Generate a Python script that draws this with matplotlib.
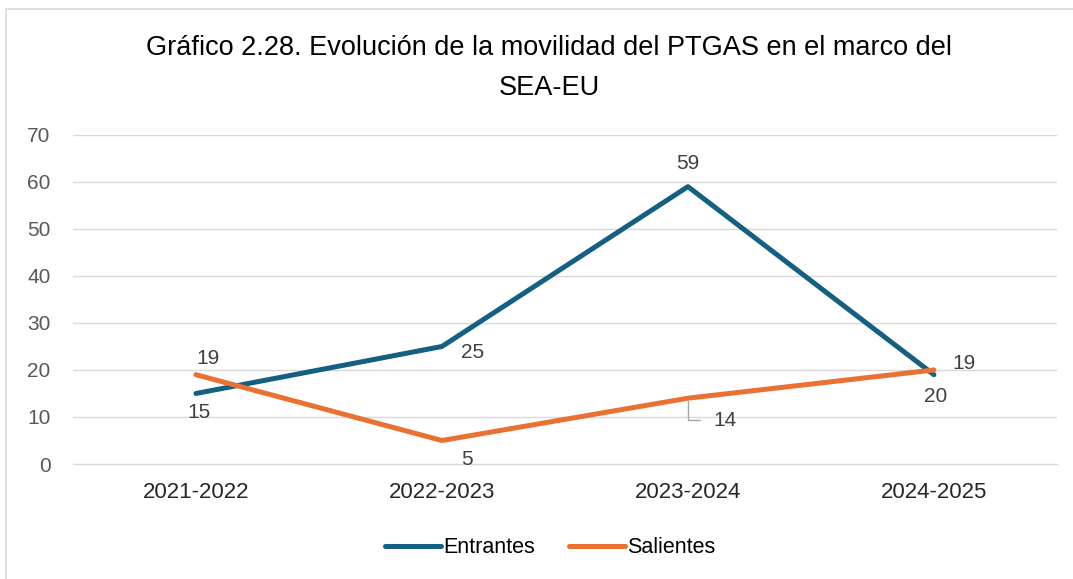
import numpy as np
import matplotlib.pyplot as plt

plt.rcParams['font.family'] = ['Liberation Sans', 'DejaVu Sans']

cursos = ['2021-2022', '2022-2023', '2023-2024', '2024-2025']
entrantes = [15, 25, 59, 19]
salientes = [19, 5, 14, 20]

azul = '#156082'
naranja = '#E97132'
gris = '#595959'

fig = plt.figure(figsize=(10.73, 5.79), dpi=100)
ax = fig.add_axes([0.068, 0.1986, 0.917, 0.5684])

x = np.arange(len(cursos))
ax.plot(x, entrantes, color=azul, lw=3.6, solid_capstyle='round', solid_joinstyle='round', label='Entrantes', zorder=3)
ax.plot(x, salientes, color=naranja, lw=3.6, solid_capstyle='round', solid_joinstyle='round', label='Salientes', zorder=3)

# etiquetas de datos (desplazamiento en puntos)
off_e = [(2, -14), (22, -4), (0, 17), (22, 8)]
off_s = [(9, 12), (18, -14), (27, -16), (1, -19)]
for i, v in enumerate(entrantes):
    ax.annotate(str(v), (x[i], v), xytext=off_e[i], textcoords='offset points',
                ha='center', va='center', fontsize=15, color='#404040')
for i, v in enumerate(salientes):
    ax.annotate(str(v), (x[i], v), xytext=off_s[i], textcoords='offset points',
                ha='center', va='center', fontsize=15, color='#404040')

# linea guia de la etiqueta 14
ax.annotate('', (x[2], salientes[2]), xytext=(9, -16), textcoords='offset points',
            arrowprops=dict(arrowstyle='-', color='#a6a6a6', lw=1, shrinkA=0, shrinkB=2,
                            connectionstyle='angle,angleA=0,angleB=90,rad=0'))

ax.set_xlim(-0.5, 3.5)
ax.set_ylim(0, 70)
ax.set_yticks(range(0, 71, 10))
ax.set_xticks(x)
ax.set_xticklabels(cursos)
ax.grid(axis='y', color='#d9d9d9', lw=1)
ax.set_axisbelow(True)
for s in ['top', 'right', 'left']:
    ax.spines[s].set_visible(False)
ax.spines['bottom'].set_color('#d9d9d9')
ax.tick_params(axis='both', length=0, labelsize=15)
ax.tick_params(axis='y', colors=gris, pad=16)
ax.tick_params(axis='x', colors='#262626', pad=13, labelsize=16)

fig.text(0.512, 0.917, 'Gráfico 2.28. Evolución de la movilidad del PTGAS en el marco del',
         ha='center', va='center', fontsize=19.5, color='#000000')
fig.text(0.512, 0.848, 'SEA-EU', ha='center', va='center', fontsize=19.5, color='#000000')

leg = fig.legend(loc='center', bbox_to_anchor=(0.513, 0.054), ncol=2, frameon=False,
                 fontsize=15.5, handlelength=2.6, handletextpad=0.1, columnspacing=1.6)

# marco del grafico
fig.add_artist(plt.Rectangle((0.006, -0.01), 1.1, 0.994, transform=fig.transFigure,
                             fill=False, edgecolor='#d9d9d9', lw=1.2))

fig.savefig('out.png', dpi=100)
